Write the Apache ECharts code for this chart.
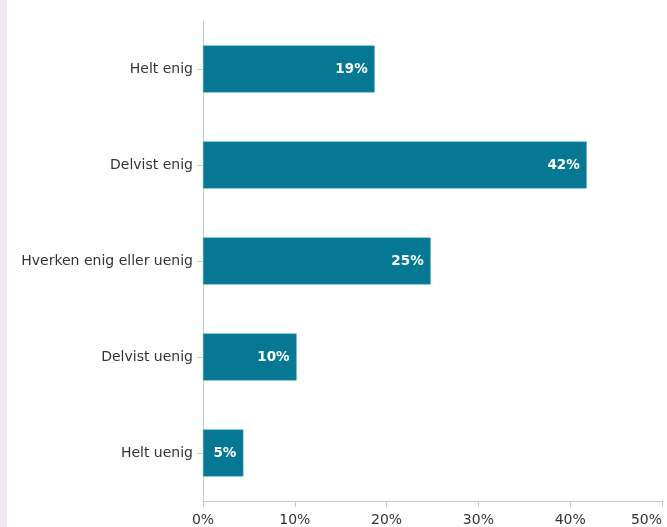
<!DOCTYPE html>
<html><head><meta charset="utf-8">
<script src="https://cdn.jsdelivr.net/npm/echarts@6/dist/echarts.min.js"></script>
<style>html,body{margin:0;padding:0;background:#fff}#c{width:667px;height:527px}</style>
</head><body><div id="c"></div>
<script>
const categories = ["Helt enig", "Delvist enig", "Hverken enig eller uenig", "Delvist uenig", "Helt uenig"];
const values = [18.7, 41.8, 24.8, 10.2, 4.4];
const valueLabels = ["19%", "42%", "25%", "10%", "5%"];
const xTicks = [0, 10, 20, 30, 40, 50];

const chart = echarts.init(document.getElementById('c'), null, {renderer: 'canvas'});
chart.setOption({
  animation: false,
  textStyle: {fontFamily: 'DejaVu Sans'},
  graphic: [{type: 'rect', shape: {x: 0, y: 0, width: 7, height: 527}, style: {fill: '#eee9f1'}}],
  grid: {left: 203, right: 5, top: 21, bottom: 26, containLabel: false, outerBoundsMode: 'none'},
  xAxis: {
    type: 'value', min: xTicks[0], max: xTicks[xTicks.length - 1], interval: 10,
    axisLine: {show: true, lineStyle: {color: '#c4c9ce'}},
    axisTick: {show: true, length: 6, lineStyle: {color: '#c4c9ce'}},
    splitLine: {show: false},
    axisLabel: {formatter: v => v + '%', color: '#333', fontSize: 14, margin: 12, fontFamily: 'DejaVu Sans', alignMaxLabel: 'right'}
  },
  yAxis: {
    type: 'category', data: categories, inverse: true,
    axisLine: {show: true, lineStyle: {color: '#c4c9ce'}},
    axisTick: {show: true, length: 6, alignWithLabel: true, lineStyle: {color: '#c4c9ce'}},
    axisLabel: {color: '#333', fontSize: 14, margin: 10, fontFamily: 'DejaVu Sans'}
  },
  series: [{
    type: 'bar', data: values, barWidth: 47,
    itemStyle: {color: '#067893', borderColor: '#4ea3b8', borderWidth: 0.5},
    label: {
      show: true, position: 'insideRight', distance: 7, color: '#fff', fontWeight: 'bold', fontSize: 13.5,
      fontFamily: 'DejaVu Sans',
      formatter: p => valueLabels[p.dataIndex]
    }
  }]
});
</script></body></html>
